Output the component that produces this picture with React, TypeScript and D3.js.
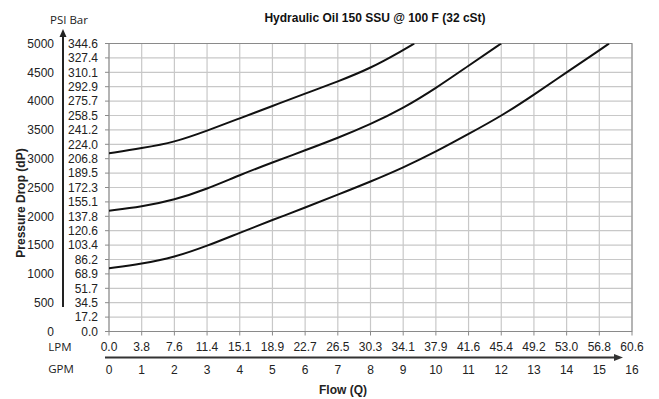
import React from "react";
import * as d3 from "d3";

const gpmTicks = [0, 1, 2, 3, 4, 5, 6, 7, 8, 9, 10, 11, 12, 13, 14, 15, 16];
const lpmLabels = ["0.0", "3.8", "7.6", "11.4", "15.1", "18.9", "22.7", "26.5", "30.3", "34.1", "37.9", "41.6", "45.4", "49.2", "53.0", "56.8", "60.6"];
const psiTicks = [0, 500, 1000, 1500, 2000, 2500, 3000, 3500, 4000, 4500, 5000];
const barLabels = ["0.0", "17.2", "34.5", "51.7", "68.9", "86.2", "103.4", "120.6", "137.8", "155.1", "172.3", "189.5", "206.8", "224.0", "241.2", "258.5", "275.7", "292.9", "310.1", "327.4", "344.6"];

const topGpm = [0, 1, 2, 3, 4, 5, 6, 7, 8, 9, 9.34];
const topPsi = [3094, 3181, 3285, 3486, 3701, 3915, 4130, 4340, 4569, 4885, 5000];
const midGpm = [0, 1, 2, 3, 4, 5, 6, 7, 8, 9, 10, 11, 12];
const midPsi = [2097, 2167, 2283, 2475, 2717, 2935, 3145, 3360, 3597, 3875, 4222, 4615, 5000];
const lowGpm = [0, 1, 2, 3, 4, 5, 6, 7, 8, 9, 10, 11, 12, 13, 14, 15, 15.3];
const lowPsi = [1097, 1172, 1288, 1484, 1715, 1936, 2150, 2375, 2601, 2844, 3120, 3430, 3740, 4110, 4500, 4880, 5000];

const W = 659;
const H = 399;
const X0 = 109, X1 = 632, Y0 = 331.5, Y1 = 43.5;

export default function App() {
  const x = d3.scaleLinear().domain([0, 16]).range([X0, X1]);
  const y = d3.scaleLinear().domain([0, 5000]).range([Y0, Y1]);
  const yBar = d3.scaleLinear().domain([0, 20]).range([Y0, Y1]);
  const line = d3
    .line<[number, number]>()
    .x((d) => x(d[0]))
    .y((d) => y(d[1]))
    .curve(d3.curveBasis);
  const series = [
    [topGpm, topPsi],
    [midGpm, midPsi],
    [lowGpm, lowPsi],
  ].map(([g, p]) => g.map((v, i) => [v, p[i]] as [number, number]));

  const num = "'Liberation Sans', Arial, sans-serif";
  const soft = "'Open Sans', sans-serif";
  const gridIdx = d3.range(0, 21);

  return (
    <svg width={W} height={H} style={{ position: "absolute", left: 0, top: 0, background: "#fff" }}>
      <defs>
        <clipPath id="plot">
          <rect x={X0} y={Y1} width={X1 - X0} height={Y0 - Y1} />
        </clipPath>
      </defs>
      <rect x={0} y={0} width={W} height={H} fill="#fff" />
      {gridIdx.map((i) => (
        <line key={"h" + i} x1={X0} x2={X1} y1={yBar(i)} y2={yBar(i)} stroke="#c8c8c8" strokeWidth={1.2} />
      ))}
      {gpmTicks.map((g) => (
        <line key={"v" + g} x1={x(g)} x2={x(g)} y1={Y1} y2={Y0} stroke="#c8c8c8" strokeWidth={1.2} />
      ))}
      <rect x={X0} y={Y1} width={X1 - X0} height={Y0 - Y1} fill="none" stroke="#8a8a8a" strokeWidth={1} />
      {gridIdx.map((i) => (
        <line key={"lt" + i} x1={X0 - 4} x2={X0} y1={yBar(i)} y2={yBar(i)} stroke="#8a8a8a" />
      ))}
      {gpmTicks.map((g) => (
        <line key={"bt" + g} x1={x(g)} x2={x(g)} y1={Y0} y2={Y0 + 4} stroke="#8a8a8a" />
      ))}
      <g clipPath="url(#plot)">
        {series.map((s, i) => (
          <path key={i} d={line(s) || ""} fill="none" stroke="#111" strokeWidth={2} />
        ))}
      </g>
      {barLabels.map((b, i) => (
        <text key={"b" + i} x={98} y={yBar(i)} dy="0.35em" textAnchor="end" fontFamily={num} fontSize={12} fill="#222">
          {b}
        </text>
      ))}
      {psiTicks.map((p) => (
        <text key={"p" + p} x={54} y={y(p)} dy="0.35em" textAnchor="end" fontFamily={num} fontSize={12} fill="#222">
          {p}
        </text>
      ))}
      <line x1={63} x2={63} y1={307} y2={36} stroke="#222" strokeWidth={2} />
      <path d="M63,29 L59.5,37 L66.5,37 Z" fill="#222" />
      <text x={69} y={20} dy="0.35em" textAnchor="middle" fontFamily={soft} fontSize={11.5} fill="#222">
        PSI Bar
      </text>
      <text
        transform="translate(21,203) rotate(-90)"
        textAnchor="middle"
        dy="0.35em"
        fontFamily={num}
        fontWeight="bold"
        fontSize={12}
        fill="#222"
      >
        Pressure Drop (dP)
      </text>
      {lpmLabels.map((l, i) => (
        <text key={"l" + i} x={x(gpmTicks[i])} y={347} dy="0.35em" textAnchor="middle" fontFamily={num} fontSize={12} fill="#222">
          {l}
        </text>
      ))}
      {gpmTicks.map((g) => (
        <text key={"g" + g} x={x(g)} y={370} dy="0.35em" textAnchor="middle" fontFamily={num} fontSize={12} fill="#222">
          {g}
        </text>
      ))}
      <line x1={105} x2={615} y1={357.5} y2={357.5} stroke="#333" strokeWidth={2} />
      <path d="M623,357.5 L614,354 L614,361 Z" fill="#333" />
      <text x={60} y={347} dy="0.35em" textAnchor="middle" fontFamily={soft} fontSize={11.5} fill="#222">
        LPM
      </text>
      <text x={61} y={369} dy="0.35em" textAnchor="middle" fontFamily={soft} fontSize={11.5} fill="#222">
        GPM
      </text>
      <text x={343} y={390} dy="0.35em" textAnchor="middle" fontFamily={num} fontWeight="bold" fontSize={12} fill="#222">
        Flow (Q)
      </text>
      <text x={375} y={18} dy="0.35em" textAnchor="middle" fontFamily={num} fontWeight="bold" fontSize={12} fill="#111">
        Hydraulic Oil 150 SSU @ 100 F (32 cSt)
      </text>
    </svg>
  );
}
